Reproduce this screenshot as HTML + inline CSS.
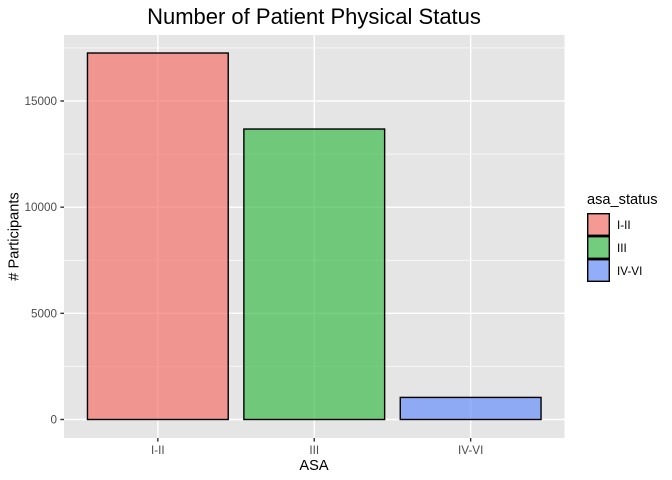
<!DOCTYPE html>
<html>
<head>
<meta charset="utf-8">
<style>
html,body{margin:0;padding:0;background:#fff;width:672px;height:480px;overflow:hidden}
svg{display:block;font-family:"Liberation Sans",Arial,sans-serif}
</style>
</head>
<body>
<svg id="chart" width="672" height="480" viewBox="0 0 672 480" xmlns="http://www.w3.org/2000/svg">
  <rect x="0" y="0" width="672" height="480" fill="#fff"/>
  <rect x="64" y="35" width="500.5" height="403" fill="#E5E5E5"/>
  <g id="grid"></g>
  <g id="bars"></g>
  <g id="axes"></g>
  <text x="314" y="24" font-size="22" text-anchor="middle" fill="#000">Number of Patient Physical Status</text>
  <text x="314" y="470" font-size="14.6" text-anchor="middle" fill="#000">ASA</text>
  <text transform="translate(18.5 236.5) rotate(-90)" font-size="14.6" text-anchor="middle" fill="#000"># Participants</text>
  <g id="legend">
    <text x="587" y="204" font-size="14.6" fill="#000">asa_status</text>
  </g>
</svg>
<script>
var categories = ['I-II', 'III', 'IV-VI'];
var participants = [17260, 13680, 1040];
var yTicks = [0, 5000, 10000, 15000];
var yMinorTicks = [2500, 7500, 12500, 17500];
var barColors = ['#F5746C', '#3EBD4E', '#6A92FC'];

var NS = 'http://www.w3.org/2000/svg';
var panelLeft = 64, panelRight = 564.5, panelTop = 35, panelBottom = 438;
var y0 = 419.5, pxPerUnit = 318.5 / 15000;
var bandStep = (panelRight - panelLeft) / (categories.length + 0.2);

function yScale(v) { return y0 - v * pxPerUnit; }
function xScale(i) { return panelLeft + bandStep * (0.6 + i); }
function make(tag, attrs, parent) {
  var el = document.createElementNS(NS, tag);
  for (var k in attrs) el.setAttribute(k, attrs[k]);
  parent.appendChild(el);
  return el;
}

var grid = document.getElementById('grid');
var bars = document.getElementById('bars');
var axes = document.getElementById('axes');
var legend = document.getElementById('legend');

yMinorTicks.forEach(function (t) {
  var l = make('line', {x1: panelLeft, x2: panelRight, y1: yScale(t), y2: yScale(t), stroke: '#fff', 'stroke-width': 0.7}, grid);
  
  
});
yTicks.forEach(function (t) {
  var l = make('line', {x1: panelLeft, x2: panelRight, y1: yScale(t), y2: yScale(t), stroke: '#fff', 'stroke-width': 1.4}, grid);
  
  

  var tick = make('line', {x1: panelLeft - 3.6, x2: panelLeft, y1: yScale(t), y2: yScale(t), stroke: '#333', 'stroke-width': 1.4}, axes);
  
  

  var txt = make('text', {x: panelLeft - 7, y: yScale(t) + 4, 'font-size': 11.7, 'text-anchor': 'end', fill: '#4D4D4D'}, axes);
  txt.textContent = String(t);
  
  
});

categories.forEach(function (c, i) {
  var cx = xScale(i);
  var g = make('line', {x1: cx, x2: cx, y1: panelTop, y2: panelBottom, stroke: '#fff', 'stroke-width': 1.4}, grid);
  
  

  var w = bandStep * 0.9;
  var bar = make('rect', {x: cx - w / 2, y: yScale(participants[i]), width: w, height: y0 - yScale(participants[i]), fill: barColors[i], 'fill-opacity': 0.7, stroke: '#000', 'stroke-width': 1.4}, bars);
  
  

  var tick = make('line', {x1: cx, x2: cx, y1: panelBottom, y2: panelBottom + 3.6, stroke: '#333', 'stroke-width': 1.4}, axes);
  
  

  var txt = make('text', {x: cx, y: panelBottom + 16, 'font-size': 11.7, 'text-anchor': 'middle', fill: '#4D4D4D'}, axes);
  txt.textContent = c;
  
  

  var ky = 213 + i * 23;
  var bg = make('rect', {x: 587, y: ky, width: 23, height: 23, fill: '#F2F2F2'}, legend);
  
  

  var key = make('rect', {x: 587.7, y: ky + 0.7, width: 21.6, height: 21.6, fill: barColors[i], 'fill-opacity': 0.7, stroke: '#000', 'stroke-width': 1.4}, legend);
  
  

  var lab = make('text', {x: 617, y: ky + 16, 'font-size': 11.7, fill: '#000'}, legend);
  lab.textContent = c;
  
  
});
</script>
</body>
</html>
